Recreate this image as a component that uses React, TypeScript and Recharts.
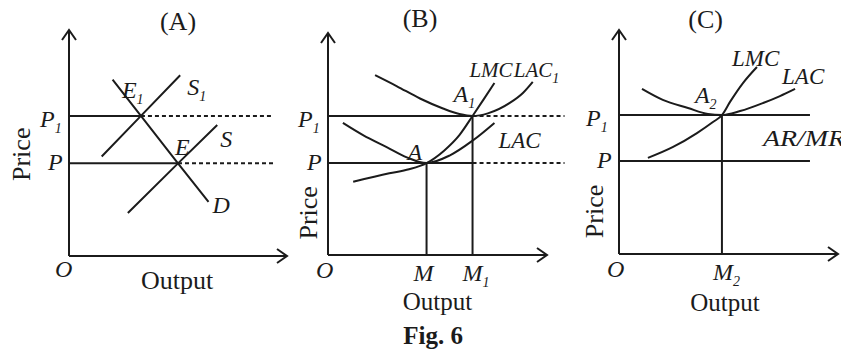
import React from "react";
import { LineChart, Line, XAxis, YAxis, ReferenceLine, ReferenceDot } from "recharts";

const W = 841;
const H = 356;
const INK = "#1b1b1b";
const SERIF = "'Liberation Serif', 'Times New Roman', Times, serif";

type Pt = { q: number; p: number };

// (A) market: demand with the old and new supply curves
const demandA: Pt[] = [
  { q: 2.0, p: 7.8 },
  { q: 3.3, p: 6.2 },
  { q: 5.0, p: 4.1 },
  { q: 6.4, p: 2.4 },
];
const supply1A: Pt[] = [
  { q: 1.5, p: 4.4 },
  { q: 3.3, p: 6.2 },
  { q: 5.1, p: 8.0 },
];
const supplyA: Pt[] = [
  { q: 2.7, p: 1.9 },
  { q: 5.0, p: 4.1 },
  { q: 6.8, p: 5.8 },
];
const pricesA = [4.1, 6.2]; // P, P1
const eqOutputA = [5.0, 3.3]; // E, E1
const dashEndA = 9.4;

// (B) firm: long-run cost curves before and after
const lac1B: Pt[] = [
  { q: 2.15, p: 8.1 },
  { q: 3.15, p: 7.6 },
  { q: 4.2, p: 7.05 },
  { q: 5.25, p: 6.6 },
  { q: 6.0, p: 6.35 },
  { q: 6.6, p: 6.26 },
  { q: 7.3, p: 6.38 },
  { q: 8.3, p: 6.85 },
  { q: 8.9, p: 7.3 },
  { q: 9.35, p: 7.8 },
];
const lacB: Pt[] = [
  { q: 0.68, p: 5.95 },
  { q: 1.6, p: 5.4 },
  { q: 2.7, p: 4.85 },
  { q: 3.6, p: 4.4 },
  { q: 4.5, p: 4.14 },
  { q: 5.55, p: 4.48 },
  { q: 6.6, p: 5.15 },
  { q: 7.6, p: 5.95 },
];
const lmcB: Pt[] = [
  { q: 1.15, p: 3.3 },
  { q: 2.8, p: 3.68 },
  { q: 3.7, p: 3.86 },
  { q: 4.5, p: 4.14 },
  { q: 5.3, p: 4.7 },
  { q: 6.0, p: 5.4 },
  { q: 6.6, p: 6.26 },
  { q: 7.1, p: 7.0 },
  { q: 7.6, p: 7.75 },
];
const pricesB = [4.14, 6.26]; // P, P1
const outputsB = [4.5, 6.6]; // M, M1
const dashEndB = 10.8;

// (C) firm at the new equilibrium
const lacC: Pt[] = [
  { q: 1.05, p: 7.37 },
  { q: 2.0, p: 6.88 },
  { q: 3.15, p: 6.52 },
  { q: 4.06, p: 6.25 },
  { q: 4.7, p: 6.2 },
  { q: 5.53, p: 6.38 },
  { q: 6.58, p: 6.74 },
  { q: 7.35, p: 7.05 },
  { q: 8.04, p: 7.37 },
];
const lmcC: Pt[] = [
  { q: 1.32, p: 4.29 },
  { q: 2.47, p: 4.78 },
  { q: 3.56, p: 5.4 },
  { q: 4.29, p: 5.89 },
  { q: 4.7, p: 6.2 },
  { q: 5.07, p: 6.79 },
  { q: 5.66, p: 7.63 },
  { q: 6.3, p: 8.35 },
];
const pricesC = [4.15, 6.2]; // P, P1
const outputC = 4.7; // M2
const lineEndC = 8.72;

type Frame = { ox: number; oy: number; ux: number; uy: number; xMax: number };

const frameA: Frame = { ox: 69, oy: 256, ux: 21.8, uy: 22.6, xMax: 10 };
const frameB: Frame = { ox: 328, oy: 255, ux: 21.9, uy: 22.2, xMax: 11 };
const frameC: Frame = { ox: 619, oy: 254, ux: 21.9, uy: 22.4, xMax: 10 };

const seg = (key: string, x1: number, y1: number, x2: number, y2: number, dashed = false) => (
  <ReferenceLine
    key={key}
    segment={[
      { x: x1, y: y1 },
      { x: x2, y: y2 },
    ]}
    stroke={INK}
    strokeWidth={2}
    strokeDasharray={dashed ? "4 3" : undefined}
    ifOverflow="visible"
  />
);

const curve = (key: string, data: Pt[], smooth = true) => (
  <Line
    key={key}
    data={data}
    dataKey="p"
    type={smooth ? "monotone" : "linear"}
    stroke={INK}
    strokeWidth={2}
    dot={false}
    activeDot={false}
    isAnimationActive={false}
  />
);

type NoteOpts = {
  sub?: string;
  italic?: boolean;
  anchor?: "start" | "middle" | "end";
  size?: number;
  bold?: boolean;
  rotate?: boolean;
  fit?: number; // squeeze/stretch the text to this width
};

const note = (key: string, x: number, y: number, dx: number, dy: number, text: string, o: NoteOpts = {}) => {
  const italic = o.italic ?? true;
  const size = o.size ?? 24;
  return (
    <ReferenceDot
      key={key}
      x={x}
      y={y}
      r={0}
      ifOverflow="visible"
      shape={(p: any) => {
        const tx = p.cx + dx;
        const ty = p.cy + dy;
        return (
          <text
            x={tx}
            y={ty}
            fill={INK}
            style={{ fontFamily: SERIF }}
            fontSize={size}
            fontStyle={italic ? "italic" : "normal"}
            fontWeight={o.bold ? 700 : 400}
            textAnchor={o.anchor ?? "start"}
            dominantBaseline={o.rotate ? "central" : undefined}
            transform={o.rotate ? `rotate(-90 ${tx} ${ty})` : undefined}
            textLength={o.fit}
            lengthAdjust={o.fit ? "spacingAndGlyphs" : undefined}
          >
            {text}
            {o.sub && (
              <tspan fontSize={14} dy={6}>
                {o.sub}
              </tspan>
            )}
          </text>
        );
      }}
    />
  );
};

const arrow = (key: string, x: number, y: number, dir: "up" | "right") => (
  <ReferenceDot
    key={key}
    x={x}
    y={y}
    r={0}
    ifOverflow="visible"
    shape={(p: any) => {
      const { cx, cy } = p;
      const d =
        dir === "right"
          ? `M${cx - 10} ${cy - 7} L${cx} ${cy} L${cx - 10} ${cy + 7}`
          : `M${cx - 7} ${cy + 10} L${cx} ${cy} L${cx + 7} ${cy + 10}`;
      return <path d={d} fill="none" stroke={INK} strokeWidth={2} strokeLinejoin="miter" />;
    }}
  />
);

function Panel({ frame, children }: { frame: Frame; children: React.ReactNode }) {
  const margin = {
    left: frame.ox,
    top: frame.oy - 10 * frame.uy,
    right: W - frame.ox - frame.xMax * frame.ux,
    bottom: H - frame.oy,
  };
  return (
    <div style={{ position: "absolute", left: 0, top: 0 }}>
      <LineChart width={W} height={H} margin={margin}>
        <XAxis type="number" dataKey="q" domain={[0, frame.xMax]} hide allowDataOverflow />
        <YAxis type="number" dataKey="p" domain={[0, 10]} hide allowDataOverflow />
        {seg("ax-x", 0, 0, 10, 0)}
        {seg("ax-y", 0, 0, 0, 10)}
        {arrow("ar-x", 10, 0, "right")}
        {arrow("ar-y", 0, 10, "up")}
        {children}
      </LineChart>
    </div>
  );
}

export default function App() {
  const [pA, p1A] = pricesA;
  const [eA, e1A] = eqOutputA;
  const [pB, p1B] = pricesB;
  const [mB, m1B] = outputsB;
  const [pC, p1C] = pricesC;

  return (
    <div style={{ position: "absolute", left: 0, top: 0, width: W, height: H, background: "#ffffff", overflow: "hidden" }}>
      <Panel frame={frameA}>
        {seg("p1-solid", 0, p1A, e1A, p1A)}
        {seg("p1-dash", e1A, p1A, dashEndA, p1A, true)}
        {seg("p-solid", 0, pA, eA, pA)}
        {seg("p-dash", eA, pA, dashEndA, pA, true)}
        {curve("d", demandA, false)}
        {curve("s1", supply1A, false)}
        {curve("s", supplyA, false)}
        {note("t", 5, 10, 0, 0, "(A)", { italic: false, anchor: "middle", size: 26 })}
        {note("e1", e1A, p1A, -19, -18, "E", { sub: "1" })}
        {note("s1l", 5.1, 8.0, 7, 20, "S", { sub: "1" })}
        {note("el", eA, pA, -3, -8, "E")}
        {note("sl", 6.8, 5.8, 3, 22, "S")}
        {note("dl", 6.4, 2.4, 4, 11, "D")}
        {note("p1", 0, p1A, -29, 11, "P", { sub: "1" })}
        {note("p", 0, pA, -21, 7, "P")}
        {note("o", 0, 0, -14, 21, "O")}
        {note("out", 5, 0, -1, 33, "Output", { italic: false, anchor: "middle", size: 26 })}
        {note("price", 0, 4.5, -47, 0, "Price", { italic: false, anchor: "middle", size: 26, rotate: true })}
      </Panel>

      <Panel frame={frameB}>
        {seg("p1-solid", 0, p1B, m1B, p1B)}
        {seg("p1-dash", m1B, p1B, dashEndB, p1B, true)}
        {seg("p-solid", 0, pB, m1B, pB)}
        {seg("p-dash", m1B, pB, dashEndB, pB, true)}
        {seg("m", mB, 0, mB, pB)}
        {seg("m1", m1B, 0, m1B, p1B)}
        {curve("lac1", lac1B)}
        {curve("lac", lacB)}
        {curve("lmc", lmcB)}
        {note("t", 4.2, 10, 0, -6, "(B)", { italic: false, anchor: "middle", size: 26 })}
        {note("lmcl", 7.6, 7.75, -25, -6, "LMC", { size: 21 })}
        {note("lac1l", 9.35, 7.8, -19, -5, "LAC", { sub: "1", size: 21 })}
        {note("a1", m1B, p1B, -19, -14, "A", { sub: "1" })}
        {note("a", mB, pB, -19, -3, "A")}
        {note("lacl", 7.6, 5.95, 4, 25, "LAC", { size: 23 })}
        {note("p1", 0, p1B, -30, 11, "P", { sub: "1" })}
        {note("p", 0, pB, -21, 7, "P")}
        {note("o", 0, 0, -12, 23, "O")}
        {note("ml", mB, 0, -13, 26, "M")}
        {note("m1l", m1B, 0, -10, 26, "M", { sub: "1" })}
        {note("out", 5, 0, 0, 55, "Output", { italic: false, anchor: "middle", size: 25 })}
        {note("price", 0, 1.9, -19, 0, "Price", { italic: false, anchor: "middle", size: 26, rotate: true })}
        {note("fig", 4.8, 0, 0, 89, "Fig. 6", { italic: false, anchor: "middle", size: 25, bold: true })}
      </Panel>

      <Panel frame={frameC}>
        {seg("p1-line", 0, p1C, lineEndC, p1C)}
        {seg("p-line", 0, pC, lineEndC, pC)}
        {seg("m2", outputC, 0, outputC, p1C)}
        {curve("lac", lacC)}
        {curve("lmc", lmcC)}
        {note("t", 4, 10, -1, -2, "(C)", { italic: false, anchor: "middle", size: 26 })}
        {note("lmcl", 6.3, 8.35, -25, -1, "LMC", { size: 23 })}
        {note("lacl", 8.04, 7.37, -13, -5, "LAC", { size: 23 })}
        {note("a2", outputC, p1C, -27, -12, "A", { sub: "2" })}
        {note("armr", lineEndC, p1C, -47, 31, "AR/MR", { size: 24, fit: 82 })}
        {note("p1", 0, p1C, -33, 11, "P", { sub: "1" })}
        {note("p", 0, pC, -22, 7, "P")}
        {note("o", 0, 0, -12, 23, "O")}
        {note("m2l", outputC, 0, -9, 26, "M", { sub: "2" })}
        {note("out", outputC, 0, 3, 57, "Output", { italic: false, anchor: "middle", size: 25 })}
        {note("price", 0, 1.9, -24, 0, "Price", { italic: false, anchor: "middle", size: 26, rotate: true })}
      </Panel>
    </div>
  );
}
